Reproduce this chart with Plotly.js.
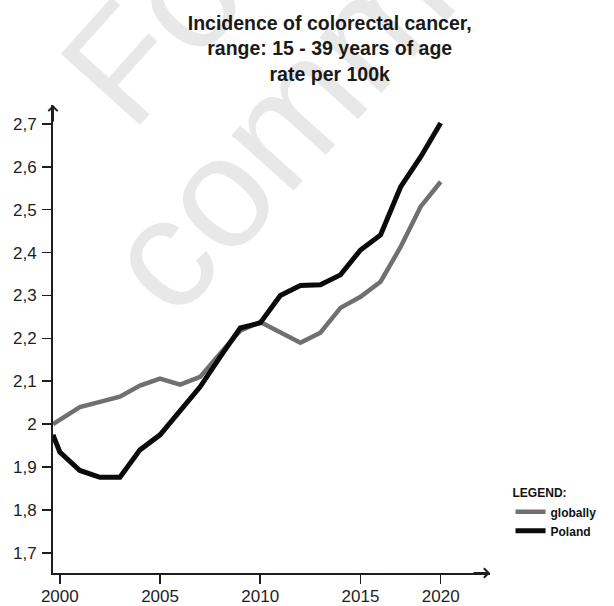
<!DOCTYPE html>
<html>
<head>
<meta charset="utf-8">
<script src="https://cdn.plot.ly/plotly-3.0.1.min.js"></script>
<style>html,body{margin:0;padding:0;background:#fff;}#chart{width:614px;height:606px;}</style>
</head>
<body>
<div id="chart"></div>
<script>
// Years (first point sits on the y axis, just before 2000)
const yearsPoland = [1999.66, 2000, 2001, 2002, 2003, 2004, 2005, 2006, 2007, 2008, 2009, 2010, 2011, 2012, 2013, 2014, 2015, 2016, 2017, 2018, 2019];
const valuesPoland = [1.975, 1.935, 1.892, 1.876, 1.876, 1.94, 1.975, 2.033, 2.087, 2.157, 2.224, 2.236, 2.300, 2.323, 2.325, 2.348, 2.406, 2.441, 2.553, 2.623, 2.702];

const yearsGlobal = [1999.66, 2001, 2002, 2003, 2004, 2005, 2006, 2007, 2008, 2009, 2010, 2011, 2012, 2013, 2014, 2015, 2016, 2017, 2018, 2019];
const valuesGlobal = [2.0, 2.04, 2.052, 2.064, 2.09, 2.106, 2.092, 2.11, 2.165, 2.218, 2.238, 2.213, 2.19, 2.213, 2.271, 2.297, 2.332, 2.413, 2.507, 2.565];

const xTickVals = [2000, 2005, 2010, 2015, 2019];
const xTickText = ['2000', '2005', '2010', '2015', '2020'];
const yTickVals = [1.7, 1.8, 1.9, 2.0, 2.1, 2.2, 2.3, 2.4, 2.5, 2.6, 2.7];
const yTickText = ['1,7', '1,8', '1,9', '2', '2,1', '2,2', '2,3', '2,4', '2,5', '2,6', '2,7'];

const FONT = 'Liberation Sans, Arial, sans-serif';
const AXC = '#1e1e1e';

const traces = [
  {x: yearsGlobal, y: valuesGlobal, name: 'globally', type: 'scatter', mode: 'lines',
   line: {color: '#707070', width: 4.5}},
  {x: yearsPoland, y: valuesPoland, name: 'Poland', type: 'scatter', mode: 'lines',
   line: {color: '#0a0a0a', width: 5}}
];

const wm = 'rgba(0,0,0,0.09)';
const layout = {
  width: 614, height: 606,
  margin: {l: 53, r: 114, t: 105, b: 33, pad: 0},
  paper_bgcolor: '#ffffff', plot_bgcolor: '#ffffff',
  font: {family: FONT, color: AXC},
  title: {
    text: 'Incidence of colorectal cancer,<br>range: 15 - 39 years of age<br>rate per 100k',
    font: {family: FONT, size: 19.5, color: '#1a1a1a', weight: 'bold'},
    xref: 'container', x: 0.537, xanchor: 'center',
    yref: 'container', y: 1 - 30/606, yanchor: 'top'
  },
  xaxis: {
    range: [1999.66, 2021.46], showgrid: false, zeroline: false,
    showline: true, linecolor: AXC, linewidth: 2,
    ticks: 'outside', ticklen: 9, tickwidth: 1.6, tickcolor: AXC,
    tickvals: xTickVals, ticktext: xTickText,
    tickfont: {family: FONT, size: 17, color: AXC},
    ticklabelstandoff: -2, automargin: false, fixedrange: true
  },
  yaxis: {
    range: [1.653, 2.744], showgrid: false, zeroline: false,
    showline: true, linecolor: AXC, linewidth: 2,
    ticks: 'outside', ticklen: 9, tickwidth: 1.6, tickcolor: AXC,
    tickvals: yTickVals, ticktext: yTickText,
    tickfont: {family: FONT, size: 17, color: AXC},
    ticklabelstandoff: 2, automargin: false, fixedrange: true
  },
  showlegend: true,
  legend: {
    x: 1.047, xanchor: 'left', y: 0.195, yanchor: 'top',
    bgcolor: 'rgba(255,255,255,0)', borderwidth: 0,
    font: {family: FONT, size: 12, color: '#111', weight: 'bold'},
    title: {text: 'LEGEND:', side: 'top', font: {family: FONT, size: 12, color: '#111', weight: 'bold'}},
    traceorder: 'normal', itemwidth: 30, tracegroupgap: 0
  },
  annotations: [
    // watermark
    {xref: 'paper', yref: 'paper', x: (172 - 53)/447, y: (573 - 12)/468, text: 'For', showarrow: false,
     textangle: -48, font: {family: FONT, size: 155, color: wm}, xanchor: 'center', yanchor: 'middle'},
    {xref: 'paper', yref: 'paper', x: (412 - 53)/447, y: (573 + 14)/468, text: 'commercial', showarrow: false,
     textangle: -48, font: {family: FONT, size: 158, color: wm}, xanchor: 'center', yanchor: 'middle'},
    // axis arrows
    {xref: 'paper', yref: 'paper', x: 0, y: 1, ax: 0, ay: 18, text: '', showarrow: true,
     arrowhead: 4, arrowwidth: 2, arrowsize: 0.9, arrowcolor: AXC, standoff: 0},
    {xref: 'paper', yref: 'paper', x: 1, y: 0, ax: -18, ay: 0, text: '', showarrow: true,
     arrowhead: 4, arrowwidth: 2, arrowsize: 0.9, arrowcolor: AXC, standoff: 0}
  ]
};

Plotly.newPlot('chart', traces, layout, {displayModeBar: false, staticPlot: true});
</script>
</body>
</html>
